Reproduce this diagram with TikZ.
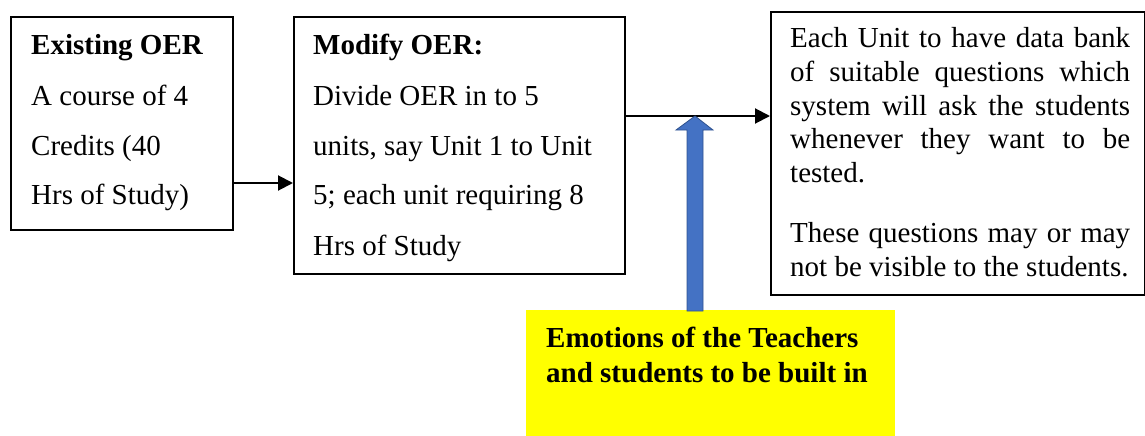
\documentclass[tikz,border=0pt]{standalone}
\usepackage{fontspec}
\setmainfont{Liberation Serif}
\usetikzlibrary{arrows.meta}
\definecolor{arrowblue}{HTML}{4472C4}
\definecolor{arrowedge}{HTML}{2F528F}
\definecolor{noteyellow}{HTML}{FFFF00}
\tikzset{
  boxnode/.style={draw=black, line width=1.6pt, rectangle, inner sep=0pt, anchor=north west},
  txt/.style={anchor=base west, inner sep=0pt, font=\fontsize{29}{35}\selectfont},
  btxt/.style={txt, font=\fontsize{29}{35}\selectfont\bfseries},
  conn/.style={line width=2pt, -{Triangle[length=15pt,width=15pt]}},
}
\newcommand{\jline}[1]{\makebox[340pt][s]{#1}}
\begin{document}
\begin{tikzpicture}[x=1pt,y=-1pt]
\useasboundingbox (0,0) rectangle (1145,436);
% boxes
\node[boxnode, minimum width=222pt, minimum height=213pt] (b1) at (10,16) {};
\node[boxnode, minimum width=331pt, minimum height=257pt] (b2) at (293,16) {};
\node[boxnode, minimum width=374pt, minimum height=283pt] (b3) at (770,11) {};
\node[fill=noteyellow, rectangle, inner sep=0pt, anchor=north west, minimum width=369pt, minimum height=126pt] (y) at (526,310) {};
% box 1 text
\node[btxt] (t1a) at (31,55) {Existing OER};
\node[txt] (t1b) at (31,105) {A course of 4};
\node[txt] (t1c) at (31,155) {Credits (40};
\node[txt] (t1d) at (31,204) {Hrs of Study)};
% box 2 text
\node[btxt] (t2a) at (313,55) {Modify OER:};
\node[txt] (t2b) at (313,105) {Divide OER in to 5};
\node[txt] (t2c) at (313,155) {units, say Unit 1 to Unit};
\node[txt] (t2d) at (313,204) {5; each unit requiring 8};
\node[txt] (t2e) at (313,255) {Hrs of Study};
% box 3 text
\node[txt] (t3a) at (790,48) {\jline{Each Unit to have data bank}};
\node[txt] (t3b) at (790,81.5) {\jline{of suitable questions which}};
\node[txt] (t3c) at (790,115) {\jline{system will ask the students}};
\node[txt] (t3d) at (790,148.5) {\jline{whenever they want to be}};
\node[txt] (t3e) at (790,182) {tested.};
\node[txt] (t3f) at (790,242.5) {\jline{These questions may or may}};
\node[txt] (t3g) at (790,276) {not be visible to the students.};
% yellow text
\node[btxt] (ty1) at (546,347) {Emotions of the Teachers};
\node[btxt] (ty2) at (546,382) {and students to be built in};
% connectors
\draw[conn] (b1.east |- 0,183) coordinate (a1s) -- (b2.west |- a1s);
\draw[conn] (b2.east |- 0,116) coordinate (a2s) -- (b3.west |- a2s) coordinate (a2e);
% block arrow
\coordinate (tip) at (695,116);
\fill[arrowblue, draw=arrowedge, line width=0.8pt]
  (687,311) -- (687,130) -- (676,130) -- (tip) -- (713,130) -- (703,130) -- (703,311) -- cycle;
\end{tikzpicture}
\end{document}
